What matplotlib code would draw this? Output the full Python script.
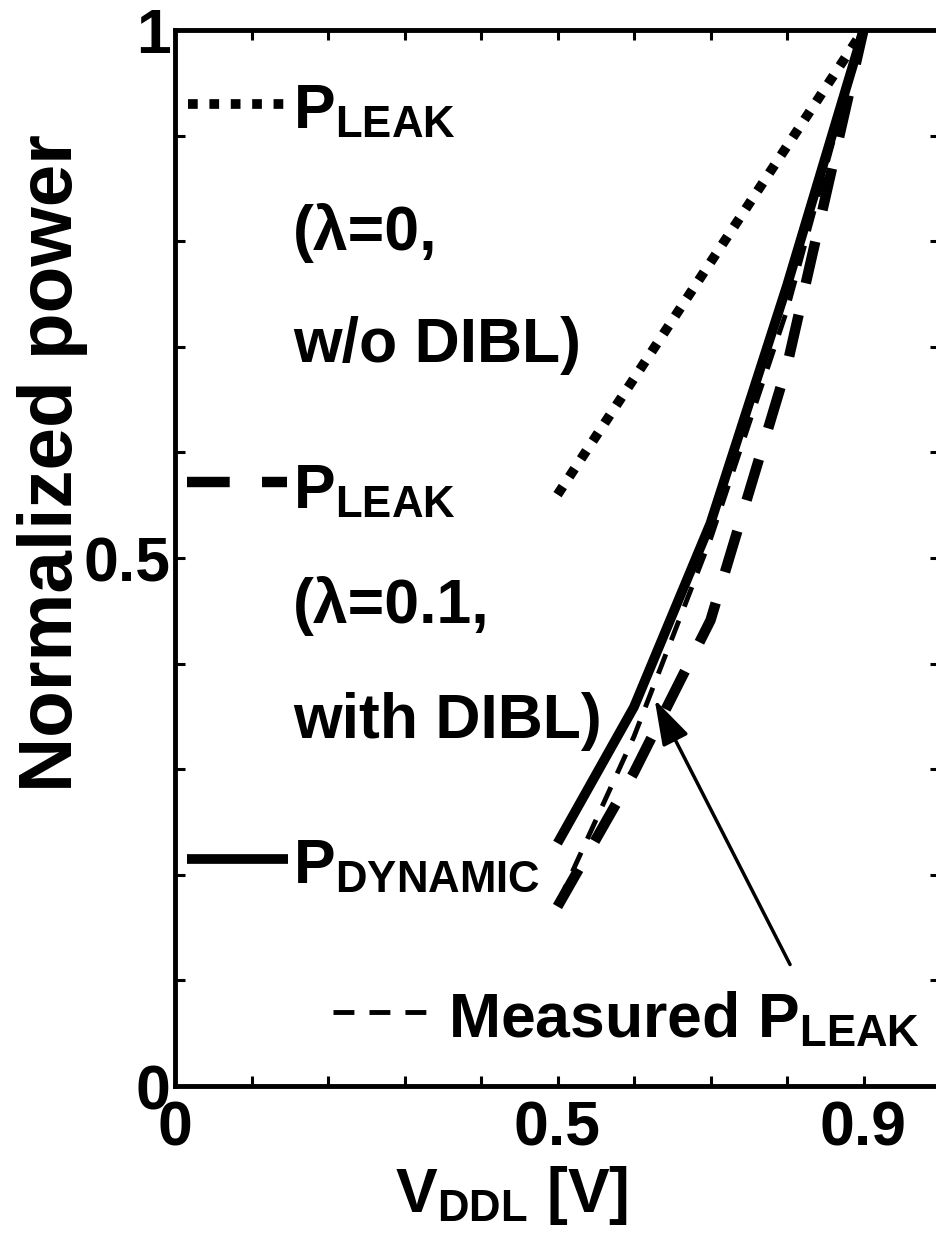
import numpy as np
import matplotlib
matplotlib.use('Agg')
import matplotlib.pyplot as plt

plt.rcParams['font.family'] = ['Liberation Sans', 'DejaVu Sans']
plt.rcParams['font.weight'] = 'bold'
plt.rcParams['mathtext.fontset'] = 'custom'
plt.rcParams['mathtext.rm'] = 'Liberation Sans:bold'
plt.rcParams['mathtext.bf'] = 'Liberation Sans:bold'
plt.rcParams['mathtext.it'] = 'Liberation Sans:bold'

# supply voltage V_DDL [V]
vddl = [0.5, 0.6, 0.7, 0.8, 0.9]
# normalized power curves
p_leak_nodibl = [0.56, 0.67, 0.78, 0.89, 1.0]    # lambda=0, w/o DIBL
p_leak_dibl = [0.170, 0.297, 0.441, 0.682, 1.0]   # lambda=0.1, with DIBL
p_dynamic = [0.230, 0.359, 0.533, 0.758, 1.0]
p_leak_meas = [0.172, 0.331, 0.518, 0.735, 1.0]

xticks = np.round(np.arange(0, 1.01, 0.1), 1)
xticklabels = ['0', '', '', '', '', '0.5', '', '', '', '0.9', '']
yticks = np.round(np.arange(0, 1.01, 0.1), 1)
yticklabels = ['0', '', '', '', '', '0.5', '', '', '', '', '1']

FS = 45

fig = plt.figure(figsize=(9.37, 12.38), dpi=100)
ax = fig.add_axes([175 / 937, 152 / 1238, 765 / 937, 1056 / 1238])

# style per curve
dot_style = dict(color='k', lw=7, dashes=(1, 1.2), dash_capstyle='butt')
thick_dash = dict(color='k', lw=7.5, dashes=(4.1, 3.1), dash_capstyle='butt')
solid = dict(color='k', lw=7, solid_capstyle='butt')
thin_dash = dict(color='k', lw=3.5, dashes=(4.3, 3.1), dash_capstyle='butt')

ax.plot(vddl, p_leak_nodibl, **dot_style)
ax.plot(vddl, p_leak_dibl, **thick_dash)
ax.plot(vddl, p_dynamic, **solid)
ax.plot(vddl, p_leak_meas, **thin_dash)

# hand-placed legend, as in the original figure
tr = ax.transAxes
ax.plot([0.017, 0.150], [0.930, 0.930], transform=tr, clip_on=False, **dot_style)
ax.plot([0.016, 0.146], [0.572, 0.572], transform=tr, clip_on=False, **thick_dash)
ax.plot([0.016, 0.148], [0.215, 0.215], transform=tr, clip_on=False, **solid)
ax.plot([0.207, 0.329], [0.070, 0.070], transform=tr, clip_on=False, **thin_dash)

txt = dict(transform=tr, fontsize=FS, fontweight='bold', va='baseline', ha='left')
ax.text(0.154, 0.907, r'$\mathbf{P_{LEAK}}$', **txt)
ax.text(0.154, 0.792, '(λ=0,', **txt)
ax.text(0.154, 0.686, 'w/o DIBL)', **txt)
ax.text(0.154, 0.547, r'$\mathbf{P_{LEAK}}$', **txt)
ax.text(0.154, 0.438, '(λ=0.1,', **txt)
ax.text(0.154, 0.330, 'with DIBL)', **txt)
ax.text(0.154, 0.192, r'$\mathbf{P_{DYNAMIC}}$', **txt)
ax.text(0.357, 0.046, r'Measured $\mathbf{P_{LEAK}}$', **txt)

ax.annotate('', xy=(0.627, 0.366), xytext=(0.804, 0.115),
            arrowprops=dict(arrowstyle='-|>,head_length=0.8,head_width=0.25',
                            lw=2.5, color='k', mutation_scale=35,
                            shrinkA=0, shrinkB=0))

ax.set_xlim(0, 1)
ax.set_ylim(0, 1)
ax.set_xticks(xticks)
ax.set_xticklabels(xticklabels)
ax.set_yticks(yticks)
ax.set_yticklabels(yticklabels)
ax.tick_params(direction='in', length=7, width=2.2, top=True, right=True,
               labelsize=FS)
ax.tick_params(axis='x', pad=10)
ax.tick_params(axis='y', pad=3)
for s in ax.spines.values():
    s.set_linewidth(3.5)

ax.set_ylabel('Normalized power', fontsize=55, fontweight='bold')
ax.yaxis.set_label_coords(-0.114, 0.59)
ax.set_xlabel(r'$\mathbf{V_{DDL}}$ [V]', fontsize=FS, fontweight='bold')
ax.xaxis.set_label_coords(0.44, -0.074)

fig.savefig('out.png', dpi=100)
